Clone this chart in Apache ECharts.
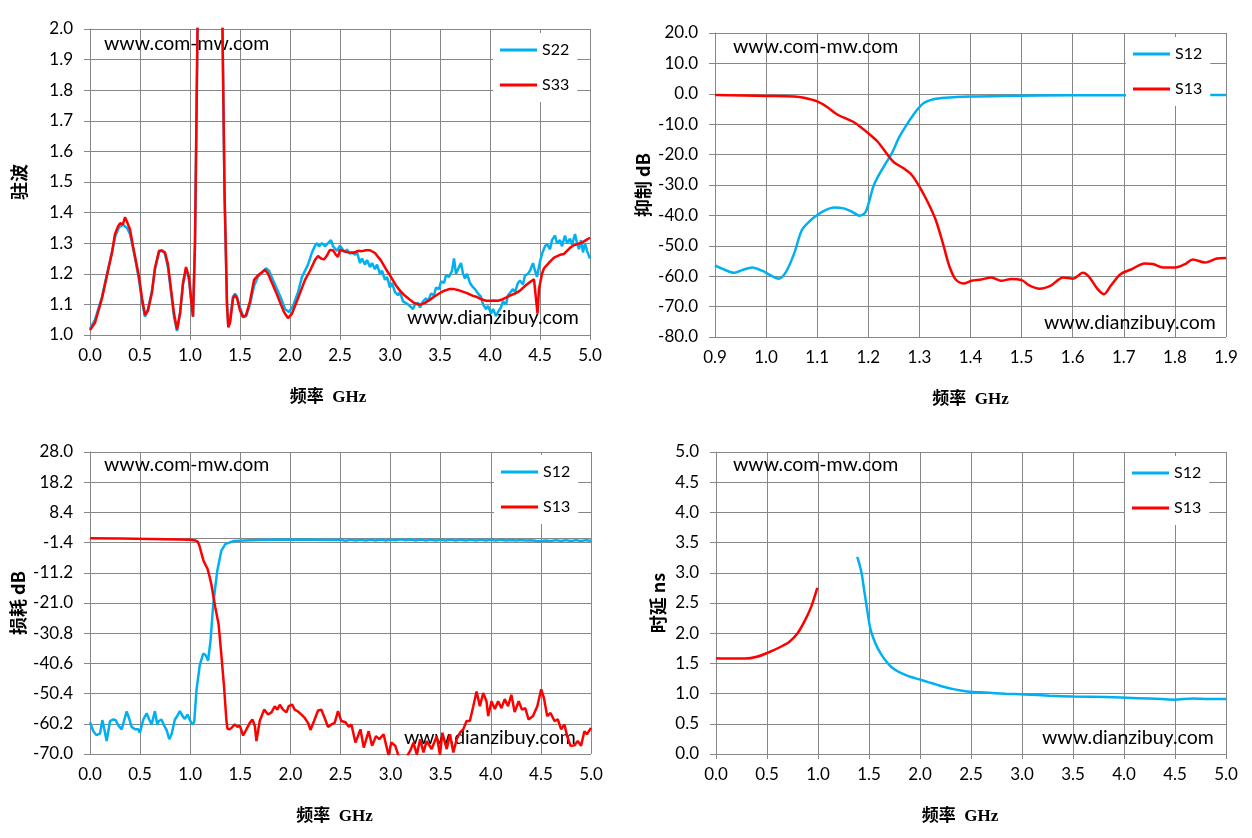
<!DOCTYPE html>
<html>
<head>
<meta charset="utf-8">
<script src="https://cdn.jsdelivr.net/npm/echarts@6/dist/echarts.min.js"></script>
<style>
  html, body { margin: 0; padding: 0; background: #fff; }
  #chart { width: 1252px; height: 838px; }
</style>
</head>
<body>
<div id="chart"></div>
<script>
// --- data, [GHz, value] ---
const vswrS22 = [[0,1.02],[0.05,1.05],[0.12,1.125],[0.18,1.215],[0.22,1.27],[0.25,1.32],[0.28,1.345],[0.3,1.355],[0.33,1.36],[0.35,1.36],[0.37,1.35],[0.4,1.33],[0.43,1.285],[0.46,1.235],[0.49,1.18],[0.52,1.11],[0.55,1.06],[0.58,1.085],[0.62,1.145],[0.65,1.215],[0.69,1.27],[0.72,1.278],[0.75,1.265],[0.78,1.22],[0.81,1.14],[0.84,1.06],[0.87,1.013],[0.9,1.07],[0.93,1.165],[0.96,1.215],[0.99,1.18],[1.01,1.12],[1.03,1.06],[1.05,1.3],[1.075,2.0],[1.1,2.6],[1.2,3.2],[1.3,2.6],[1.325,2.0],[1.345,1.47],[1.37,1.1],[1.383,1.03],[1.4,1.045],[1.43,1.125],[1.45,1.135],[1.47,1.125],[1.5,1.09],[1.53,1.062],[1.56,1.06],[1.6,1.1],[1.64,1.16],[1.68,1.19],[1.72,1.205],[1.76,1.218],[1.79,1.21],[1.83,1.18],[1.87,1.15],[1.91,1.12],[1.95,1.085],[1.99,1.075],[2.03,1.095],[2.08,1.14],[2.12,1.19],[2.18,1.23],[2.22,1.27],[2.25,1.292],[2.27,1.3],[2.29,1.29],[2.32,1.3],[2.35,1.29],[2.38,1.3],[2.41,1.31],[2.43,1.29],[2.45,1.295],[2.47,1.275],[2.5,1.292],[2.52,1.29],[2.55,1.27],[2.57,1.28],[2.6,1.265],[2.62,1.272],[2.65,1.262],[2.67,1.27],[2.7,1.235],[2.72,1.25],[2.75,1.23],[2.77,1.245],[2.8,1.222],[2.82,1.235],[2.85,1.215],[2.87,1.23],[2.9,1.2],[2.92,1.21],[2.95,1.18],[2.97,1.19],[3.0,1.155],[3.02,1.17],[3.05,1.14],[3.08,1.13],[3.1,1.14],[3.13,1.11],[3.15,1.115],[3.18,1.1],[3.2,1.105],[3.23,1.085],[3.25,1.1],[3.28,1.105],[3.3,1.09],[3.33,1.11],[3.36,1.12],[3.38,1.11],[3.41,1.135],[3.44,1.13],[3.46,1.155],[3.49,1.15],[3.51,1.175],[3.54,1.17],[3.56,1.195],[3.59,1.19],[3.62,1.21],[3.64,1.25],[3.66,1.2],[3.68,1.215],[3.71,1.235],[3.73,1.2],[3.75,1.185],[3.77,1.2],[3.8,1.17],[3.82,1.16],[3.85,1.15],[3.88,1.135],[3.91,1.125],[3.93,1.1],[3.96,1.085],[3.98,1.095],[4.01,1.07],[4.03,1.085],[4.06,1.062],[4.08,1.075],[4.11,1.09],[4.13,1.11],[4.16,1.1],[4.18,1.13],[4.2,1.135],[4.23,1.15],[4.25,1.14],[4.28,1.17],[4.3,1.178],[4.33,1.165],[4.35,1.195],[4.38,1.2],[4.4,1.21],[4.43,1.235],[4.45,1.21],[4.47,1.19],[4.5,1.24],[4.52,1.265],[4.55,1.29],[4.57,1.298],[4.6,1.28],[4.62,1.31],[4.65,1.325],[4.67,1.3],[4.7,1.31],[4.72,1.29],[4.75,1.325],[4.77,1.3],[4.8,1.315],[4.82,1.295],[4.85,1.33],[4.87,1.3],[4.89,1.28],[4.91,1.31],[4.93,1.27],[4.95,1.3],[4.97,1.275],[5.0,1.25]];
const vswrS33 = [[0,1.016],[0.05,1.04],[0.12,1.12],[0.18,1.21],[0.22,1.27],[0.25,1.33],[0.28,1.355],[0.3,1.365],[0.32,1.37],[0.33,1.362],[0.35,1.385],[0.37,1.37],[0.4,1.345],[0.43,1.29],[0.46,1.24],[0.49,1.19],[0.52,1.12],[0.55,1.065],[0.58,1.08],[0.62,1.14],[0.65,1.22],[0.69,1.275],[0.72,1.275],[0.75,1.27],[0.78,1.23],[0.81,1.15],[0.84,1.07],[0.87,1.018],[0.9,1.07],[0.93,1.17],[0.96,1.222],[0.99,1.19],[1.01,1.12],[1.03,1.06],[1.05,1.3],[1.075,2.0],[1.1,2.6],[1.2,3.2],[1.3,2.6],[1.325,2.0],[1.345,1.47],[1.37,1.1],[1.383,1.025],[1.4,1.04],[1.43,1.12],[1.45,1.13],[1.47,1.12],[1.5,1.08],[1.53,1.058],[1.56,1.065],[1.6,1.11],[1.64,1.18],[1.68,1.195],[1.72,1.205],[1.75,1.213],[1.78,1.2],[1.82,1.17],[1.86,1.14],[1.9,1.107],[1.94,1.075],[1.98,1.055],[2.02,1.07],[2.08,1.12],[2.15,1.18],[2.2,1.21],[2.25,1.245],[2.28,1.258],[2.31,1.25],[2.34,1.247],[2.37,1.26],[2.4,1.278],[2.43,1.277],[2.46,1.262],[2.48,1.255],[2.5,1.278],[2.53,1.275],[2.58,1.27],[2.63,1.268],[2.68,1.275],[2.72,1.274],[2.76,1.277],[2.8,1.277],[2.85,1.268],[2.91,1.243],[2.96,1.215],[3.0,1.195],[3.06,1.162],[3.1,1.145],[3.15,1.128],[3.2,1.115],[3.24,1.105],[3.28,1.1],[3.31,1.1],[3.35,1.105],[3.39,1.113],[3.44,1.125],[3.48,1.133],[3.53,1.143],[3.59,1.15],[3.64,1.15],[3.69,1.146],[3.77,1.137],[3.83,1.128],[3.87,1.124],[3.92,1.116],[3.96,1.112],[4.0,1.112],[4.04,1.113],[4.08,1.112],[4.12,1.116],[4.16,1.122],[4.2,1.129],[4.25,1.135],[4.3,1.145],[4.35,1.16],[4.4,1.173],[4.44,1.182],[4.46,1.18],[4.475,1.07],[4.49,1.15],[4.52,1.2],[4.54,1.218],[4.6,1.24],[4.64,1.253],[4.7,1.262],[4.74,1.265],[4.8,1.285],[4.83,1.292],[4.88,1.298],[4.92,1.302],[4.96,1.31],[5.0,1.318]];

const rejS12 = [[0.9,-56.4],[0.918,-57.8],[0.937,-58.9],[0.953,-58],[0.973,-57.1],[0.992,-58.2],[1.012,-60],[1.025,-60.8],[1.039,-58.6],[1.055,-52.5],[1.07,-44.8],[1.086,-41.8],[1.1,-39.9],[1.117,-38.2],[1.133,-37.4],[1.152,-37.7],[1.168,-38.8],[1.183,-40.1],[1.195,-38.8],[1.211,-30],[1.23,-24],[1.246,-19.6],[1.261,-14.1],[1.277,-9.7],[1.293,-5.8],[1.308,-3.1],[1.328,-1.8],[1.351,-1.3],[1.398,-0.9],[1.468,-0.7],[1.6,-0.5],[1.75,-0.45],[1.9,-0.4]];
const rejS13 = [[0.9,-0.4],[1.0,-0.7],[1.055,-0.9],[1.074,-1.3],[1.1,-2.5],[1.12,-4.4],[1.14,-6.9],[1.16,-8.4],[1.175,-9.7],[1.2,-13],[1.218,-15.7],[1.238,-20.1],[1.25,-22.5],[1.269,-24.5],[1.285,-26.7],[1.3,-30.5],[1.316,-35.5],[1.332,-41.5],[1.347,-49.8],[1.359,-56.9],[1.371,-61.1],[1.386,-62.4],[1.402,-61.5],[1.421,-61.1],[1.441,-60.4],[1.46,-61.5],[1.48,-60.9],[1.5,-61.3],[1.515,-63],[1.535,-64.1],[1.558,-63],[1.581,-60.4],[1.601,-60.8],[1.62,-58.9],[1.632,-60.2],[1.648,-64.1],[1.661,-65.9],[1.675,-63],[1.694,-59.3],[1.714,-57.8],[1.741,-55.8],[1.757,-56],[1.777,-57.1],[1.801,-57.1],[1.82,-56],[1.835,-54.5],[1.859,-55.5],[1.882,-54.2],[1.9,-54]];

const lossS12 = [[0,-59.7],[0.033,-62.6],[0.066,-63.9],[0.1,-63.4],[0.123,-59.0],[0.143,-62.0],[0.166,-65.8],[0.2,-59.3],[0.233,-58.8],[0.256,-59.0],[0.282,-60.7],[0.316,-62.0],[0.339,-59.3],[0.365,-56.2],[0.389,-58.3],[0.415,-61.2],[0.449,-62.0],[0.482,-62.0],[0.498,-63.1],[0.532,-58.8],[0.565,-56.8],[0.591,-58.8],[0.615,-60.4],[0.648,-56.1],[0.671,-60.4],[0.688,-59.3],[0.714,-58.8],[0.741,-60.9],[0.764,-62.2],[0.791,-65.2],[0.814,-63.6],[0.847,-58.8],[0.874,-57.5],[0.897,-56.1],[0.924,-57.7],[0.947,-58.6],[0.973,-57.2],[0.997,-59.0],[1.02,-60.4],[1.04,-59.7],[1.063,-49.2],[1.096,-41.1],[1.13,-37.4],[1.153,-37.9],[1.179,-39.7],[1.203,-33.1],[1.231,-21],[1.27,-10.6],[1.31,-4.1],[1.35,-1.9],[1.43,-0.9],[1.6,-0.6],[1.8,-0.5],[2.0,-0.5],[2.2,-0.45],[2.4,-0.55],[2.5,-0.5],[2.55,-0.8],[2.6,-0.5],[2.65,-0.7],[2.7,-0.45],[2.75,-0.75],[2.8,-0.5],[2.85,-0.7],[2.9,-0.4],[2.95,-0.7],[3.0,-0.45],[3.05,-0.65],[3.1,-0.35],[3.15,-0.65],[3.2,-0.4],[3.25,-0.7],[3.3,-0.4],[3.35,-0.7],[3.4,-0.45],[3.45,-0.7],[3.5,-0.45],[3.55,-0.75],[3.6,-0.45],[3.65,-0.7],[3.7,-0.45],[3.75,-0.75],[3.8,-0.5],[3.85,-0.7],[3.9,-0.5],[3.95,-0.75],[4.0,-0.5],[4.05,-0.75],[4.1,-0.5],[4.15,-0.75],[4.2,-0.55],[4.25,-0.75],[4.3,-0.55],[4.35,-0.75],[4.4,-0.6],[4.45,-0.8],[4.5,-0.9],[4.55,-0.7],[4.6,-0.9],[4.65,-0.6],[4.7,-0.85],[4.75,-0.6],[4.8,-0.85],[4.85,-0.6],[4.9,-0.85],[4.95,-0.6],[5.0,-0.8]];
const lossS13 = [[0,0],[0.3,-0.1],[0.6,-0.25],[0.9,-0.4],[1.0,-0.5],[1.05,-0.7],[1.075,-1.1],[1.093,-2.5],[1.113,-5],[1.133,-7.3],[1.155,-8.8],[1.172,-9.8],[1.19,-12],[1.211,-14.9],[1.25,-22.4],[1.283,-27.8],[1.31,-37.5],[1.338,-48.2],[1.361,-59],[1.372,-61.8],[1.395,-62.0],[1.422,-61.2],[1.445,-60.4],[1.472,-61.2],[1.495,-60.8],[1.528,-64.0],[1.561,-62.0],[1.595,-59.9],[1.621,-58.8],[1.645,-60.9],[1.661,-65.8],[1.694,-59.3],[1.738,-55.6],[1.777,-57.2],[1.811,-56.5],[1.844,-54.5],[1.87,-55.6],[1.894,-54.0],[1.927,-55.6],[1.96,-56.5],[1.983,-54.5],[2.017,-54.0],[2.043,-55.6],[2.076,-56.2],[2.11,-57.2],[2.143,-58.3],[2.176,-59.9],[2.2,-62.2],[2.236,-59.3],[2.276,-55.9],[2.309,-55.6],[2.342,-58.3],[2.375,-61.2],[2.409,-60.4],[2.442,-59.9],[2.475,-56.1],[2.508,-59.3],[2.55,-59.7],[2.583,-61.2],[2.609,-60.4],[2.649,-66.3],[2.699,-62.0],[2.732,-67.9],[2.781,-62.6],[2.815,-67.3],[2.854,-64.2],[2.887,-65.2],[2.93,-63.6],[2.98,-70.5],[3.007,-66.3],[3.046,-67.3],[3.079,-70.6],[3.146,-71.7],[3.195,-69],[3.228,-66.3],[3.262,-70.2],[3.295,-65.2],[3.328,-69.5],[3.36,-65.8],[3.41,-68.4],[3.46,-64.2],[3.493,-70.2],[3.517,-63.1],[3.56,-68.4],[3.593,-63.6],[3.626,-69.5],[3.659,-65.2],[3.692,-63.1],[3.725,-62.0],[3.758,-59.3],[3.791,-59.3],[3.825,-54.5],[3.858,-49.7],[3.891,-54.5],[3.924,-50.2],[3.957,-52.9],[3.974,-57.7],[4.007,-52.9],[4.04,-55.4],[4.073,-52.9],[4.106,-55.1],[4.139,-52.2],[4.172,-54.5],[4.205,-50.8],[4.238,-56.4],[4.278,-52.9],[4.311,-55.6],[4.344,-55.1],[4.377,-58.8],[4.421,-57.7],[4.464,-54.5],[4.503,-49.0],[4.53,-51.8],[4.563,-57.7],[4.596,-56.7],[4.636,-59.3],[4.669,-58.8],[4.702,-62.0],[4.735,-60.4],[4.762,-64.2],[4.795,-67.3],[4.834,-67.2],[4.868,-65.8],[4.901,-67.3],[4.934,-62.6],[4.96,-63.6],[5.0,-61.5]];

const delayS12 = [[1.385,3.265],[1.41,3.12],[1.432,2.95],[1.452,2.72],[1.472,2.5],[1.49,2.3],[1.51,2.1],[1.542,1.92],[1.58,1.77],[1.62,1.65],[1.67,1.53],[1.719,1.44],[1.78,1.37],[1.856,1.31],[1.92,1.27],[1.994,1.235],[2.08,1.19],[2.17,1.145],[2.25,1.105],[2.327,1.074],[2.4,1.05],[2.484,1.032],[2.64,1.017],[2.84,0.997],[3.03,0.986],[3.27,0.964],[3.5,0.953],[3.82,0.942],[4.13,0.925],[4.37,0.909],[4.49,0.9],[4.68,0.92],[4.84,0.909],[5.0,0.909]];
const delayS13 = [[0,1.586],[0.13,1.58],[0.29,1.58],[0.4,1.61],[0.52,1.685],[0.64,1.78],[0.72,1.86],[0.8,2.0],[0.875,2.22],[0.934,2.44],[0.993,2.75]];

const BLUE = '#00B0F0';
const RED = '#FF0000';
const GRIDC = '#878787';
const FONT = 'Lato, "Noto Sans", sans-serif';
const NAMEFONT = '"Liberation Serif", "Noto Sans CJK SC", serif';

const grids = [
  { left: 90, top: 29, width: 500, height: 306 },
  { left: 715, top: 33, width: 511, height: 304 },
  { left: 90, top: 452, width: 501, height: 302 },
  { left: 716, top: 452, width: 510, height: 302 },
];

function xAxis(gi, min, max, interval, shift) {
  return {
    type: 'value', gridIndex: gi, min, max, interval,
    name: '频率  GHz', nameLocation: 'middle', nameGap: 54,
    nameTextStyle: { fontFamily: NAMEFONT, fontWeight: 'bold', fontSize: 17, color: '#000', padding: [0, shift, 0, 0] },
    axisLine: { show: true, lineStyle: { color: GRIDC, width: 1 } },
    axisTick: { show: true, length: 5, lineStyle: { color: GRIDC } },
    splitLine: { show: true, lineStyle: { color: GRIDC, width: 1 } },
    axisLabel: { fontFamily: FONT, fontSize: 17, color: '#000', margin: 12, formatter: (v) => v.toFixed(1) },
  };
}
function yAxis(gi, min, max, interval, name, gap) {
  return {
    type: 'value', gridIndex: gi, min, max, interval,
    name, nameLocation: 'middle', nameGap: gap, nameRotate: 90,
    nameTextStyle: { fontFamily: '"Noto Sans CJK SC", sans-serif', fontWeight: 'bold', fontSize: 18, color: '#000' },
    axisLine: { show: true, lineStyle: { color: GRIDC, width: 1 } },
    axisTick: { show: true, length: 6, lineStyle: { color: GRIDC } },
    splitLine: { show: true, lineStyle: { color: GRIDC, width: 1 } },
    axisLabel: { fontFamily: FONT, fontSize: 17, color: '#000', margin: 17, formatter: (v) => v.toFixed(1) },
  };
}
function line(name, data, gi, color, smooth) {
  return {
    type: 'line', name, data, xAxisIndex: gi, yAxisIndex: gi,
    showSymbol: false, smooth: smooth || false, clip: true,
    lineStyle: { color, width: 2.5 }, itemStyle: { color },
  };
}
function legend(names, left, top) {
  return {
    data: names, orient: 'vertical', left, top, padding: [8, 8, 8, 7],
    itemGap: 17, itemWidth: 37, itemHeight: 3, icon: 'rect',
    backgroundColor: '#fff', selectedMode: false,
    textStyle: { fontFamily: FONT, fontSize: 16, color: '#000', lineHeight: 18 },
  };
}
function mark(text, x, y) {
  return { type: 'text', x, y, z: 1, style: { text, fill: '#000', font: '19.5px ' + FONT, verticalAlign: 'middle' } };
}

const chart = echarts.init(document.getElementById('chart'), null, { renderer: 'canvas' });
chart.setOption({
  animation: false,
  backgroundColor: '#fff',
  grid: grids,
  xAxis: [xAxis(0, 0, 5, 0.5, 24), xAxis(1, 0.9, 1.9, 0.1, 0), xAxis(2, 0, 5, 0.5, 12), xAxis(3, 0, 5, 0.5, 22)],
  yAxis: [yAxis(0, 1, 2, 0.1, '驻波', 62), yAxis(1, -80, 20, 10, '抑制 dB', 63), yAxis(2, -70, 28, 9.8, '损耗 dB', 63), yAxis(3, 0, 5, 0.5, '时延 ns', 49)],
  legend: [legend(['S22', 'S33'], 493, 33), legend(['S12', 'S13'], 1126, 37), legend(['S12', 'S13'], 494, 455), legend(['S12', 'S13'], 1125, 456)],
  graphic: [
    mark('www.com-mw.com', 104, 44), mark('www.dianzibuy.com', 407, 318),
    mark('www.com-mw.com', 733, 47), mark('www.dianzibuy.com', 1044, 323),
    mark('www.com-mw.com', 104, 465), mark('www.dianzibuy.com', 404, 738),
    mark('www.com-mw.com', 733, 465), mark('www.dianzibuy.com', 1042, 738),
  ],
  series: [
    line('S22', vswrS22, 0, BLUE), line('S33', vswrS33, 0, RED),
    line('S12', rejS12, 1, BLUE, 0.3), line('S13', rejS13, 1, RED, 0.3),
    line('S12', lossS12, 2, BLUE), line('S13', lossS13, 2, RED),
    line('S12', delayS12, 3, BLUE, 0.2), line('S13', delayS13, 3, RED, 0.3),
  ],
});
</script>
</body>
</html>
